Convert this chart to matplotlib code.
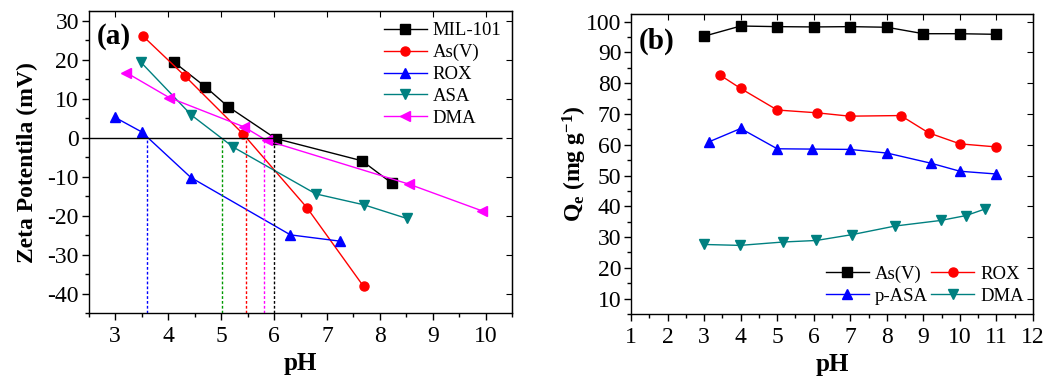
import matplotlib
matplotlib.use("Agg")
import matplotlib.pyplot as plt
from matplotlib.ticker import MultipleLocator

plt.rcParams['font.family'] = ['Liberation Serif', 'DejaVu Serif']
plt.rcParams['mathtext.fontset'] = 'custom'
plt.rcParams['mathtext.rm'] = 'Liberation Serif'
plt.rcParams['mathtext.bf'] = 'Liberation Serif:bold'
plt.rcParams['mathtext.it'] = 'Liberation Serif:italic'
plt.rcParams['mathtext.default'] = 'bf'
plt.rcParams['axes.unicode_minus'] = False

# (a) zeta potential vs pH
mil_ph = [4.11, 4.70, 5.13, 6.03, 7.66, 8.23]
mil_zeta = [19.4, 13.1, 8.0, -0.2, -5.9, -11.7]
asv_ph = [3.53, 4.32, 5.42, 6.62, 7.69]
asv_zeta = [26.0, 15.8, 0.9, -17.9, -38.1]
rox_ph = [3.00, 3.50, 4.43, 6.31, 7.24]
rox_zeta = [5.2, 1.5, -10.2, -24.9, -26.5]
asa_ph = [3.49, 4.44, 5.23, 6.79, 7.70, 8.51]
asa_zeta = [19.3, 5.8, -2.4, -14.4, -17.2, -20.7]
dma_ph = [3.21, 4.02, 5.43, 5.86, 8.55, 9.92]
dma_zeta = [16.7, 10.3, 2.8, -0.7, -11.9, -18.7]

# points of zero charge
pzc = [3.60, 5.02, 5.47, 5.81, 5.99]
pzc_colors = ['#0000ff', '#009900', '#ff0000', '#ff00ff', '#000000']

# (b) adsorption capacity vs pH
qa_ph = [3.0, 4.0, 5.0, 6.0, 7.0, 8.0, 9.0, 10.0, 11.0]
qa_as = [95.3, 98.6, 98.4, 98.3, 98.4, 98.2, 96.1, 96.1, 95.9]
qb_ph = [3.43, 4.0, 5.0, 6.08, 6.98, 8.38, 9.14, 10.0, 11.0]
qb_rox = [82.7, 78.3, 71.3, 70.4, 69.3, 69.5, 63.9, 60.3, 59.3]
qc_ph = [3.12, 4.0, 5.0, 5.94, 6.98, 8.01, 9.21, 10.0, 11.0]
qc_asa = [60.9, 65.3, 58.7, 58.6, 58.5, 57.3, 54.0, 51.4, 50.5]
qd_ph = [3.0, 3.98, 5.16, 6.07, 7.05, 8.23, 9.47, 10.17, 10.68]
qd_dma = [27.6, 27.3, 28.4, 28.9, 30.8, 33.6, 35.4, 37.0, 39.1]

teal = '#008080'
ms = 6.5

fig = plt.figure(figsize=(10.46, 3.79), dpi=100)
ax1 = fig.add_axes([0.0848, 0.1734, 0.405, 0.7976])
ax2 = fig.add_axes([0.6033, 0.1715, 0.3843, 0.7915])

ax1.plot(mil_ph, mil_zeta, '-s', color='k', lw=1, ms=ms, label='MIL-101')
ax1.plot(asv_ph, asv_zeta, '-o', color='#ff0000', lw=1, ms=ms, label='As(V)')
ax1.plot(rox_ph, rox_zeta, '-^', color='#0000ff', lw=1, ms=ms, label='ROX')
ax1.plot(asa_ph, asa_zeta, '-v', color=teal, lw=1, ms=ms, label='ASA')
ax1.plot(dma_ph, dma_zeta, '-<', color='#ff00ff', lw=1, ms=ms, label='DMA')
ax1.hlines(0, 2.5, 10.3, color='k', lw=1)
ax1.vlines(pzc, -45, 0, colors=pzc_colors, linestyles=(0, (2, 1.5)), lw=1)

ax1.set_xlim(2.5, 10.5)
ax1.set_ylim(-45, 32.5)
ax1.xaxis.set_major_locator(MultipleLocator(1))
ax1.xaxis.set_minor_locator(MultipleLocator(0.5))
ax1.yaxis.set_major_locator(MultipleLocator(10))
ax1.yaxis.set_minor_locator(MultipleLocator(5))
ax1.set_xlabel('pH', fontsize=18, fontweight='bold', labelpad=4)
ax1.set_ylabel('Zeta Potentila (mV)', fontsize=17, fontweight='bold', labelpad=7)
ax1.text(0.02, 0.96, '(a)', transform=ax1.transAxes, fontsize=21,
         fontweight='bold', va='top', ha='left')
ax1.legend(loc='upper right', frameon=False, fontsize=13.5, handlelength=2.3,
           labelspacing=0.25, borderaxespad=0.2, handletextpad=0.3)

ax2.plot(qa_ph, qa_as, '-s', color='k', lw=1, ms=ms, label='As(V)')
ax2.plot(qc_ph, qc_asa, '-^', color='#0000ff', lw=1, ms=ms, label='p-ASA')
ax2.plot(qb_ph, qb_rox, '-o', color='#ff0000', lw=1, ms=ms, label='ROX')
ax2.plot(qd_ph, qd_dma, '-v', color=teal, lw=1, ms=ms, label='DMA')

ax2.set_xlim(1, 12)
ax2.set_ylim(5, 102.5)
ax2.xaxis.set_major_locator(MultipleLocator(1))
ax2.xaxis.set_minor_locator(MultipleLocator(0.5))
ax2.yaxis.set_major_locator(MultipleLocator(10))
ax2.yaxis.set_minor_locator(MultipleLocator(5))
ax2.set_yticks(range(10, 101, 10))
ax2.set_xlabel('pH', fontsize=18, fontweight='bold', labelpad=4)
ax2.set_ylabel('Q$_e$ (mg g$^{-1}$)', fontsize=17, fontweight='bold', labelpad=-2)
ax2.text(0.02, 0.955, '(b)', transform=ax2.transAxes, fontsize=21,
         fontweight='bold', va='top', ha='left')
ax2.legend(loc='lower right', ncol=2, frameon=False, fontsize=13.5,
           handlelength=2.3, labelspacing=0.25, columnspacing=0.2,
           handletextpad=0.3, borderaxespad=0.1)

for ax in (ax1, ax2):
    ax.tick_params(which='both', direction='out', labelsize=17, width=1)
    ax.tick_params(which='major', length=5)
    ax.tick_params(which='minor', length=3)
    ax.tick_params(axis='x', pad=4)
    ax.tick_params(axis='y', pad=2)
    sec_x = ax.secondary_xaxis('top')
    sec_x.set_xticks(ax.get_xticks())
    sec_x.tick_params(direction='in', labeltop=False, length=4)
    sec_y = ax.secondary_yaxis('right')
    sec_y.set_yticks(ax.get_yticks())
    sec_y.tick_params(direction='in', labelright=False, length=4)
    for s in ax.spines.values():
        s.set_linewidth(1)

fig.savefig('out.png', dpi=100)
